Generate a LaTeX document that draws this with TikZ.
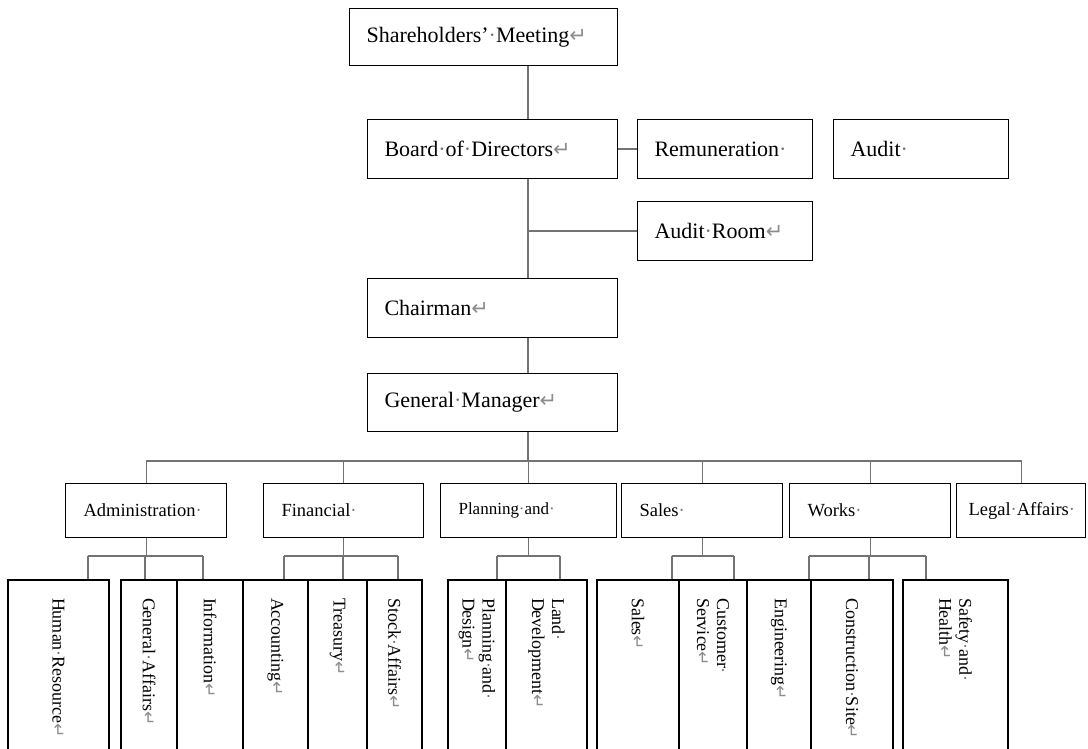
\documentclass[tikz,border=0pt]{standalone}
\usepackage{fontspec}
\setmainfont{Liberation Serif}
\newfontfamily\markfont{DejaVu Sans}
\usepackage{graphicx}
\usepackage{tikz}
\usetikzlibrary{positioning}

% word-processor marks as printed in the chart
\newcommand{\spdot}{{\color{black!55}·}}
\newcommand{\pmark}{{\markfont\color{black!45}\scalebox{0.95}{↵}}}

\tikzset{
	unit/.style={draw, line width=1.1pt, rectangle, anchor=north west, align=left, inner ysep=0pt},
	topunit/.style={unit, inner xsep=17pt, minimum height=59pt, font=\fontsize{22}{26}\selectfont},
	deptunit/.style={unit, inner xsep=18pt, minimum height=54pt, font=\fontsize{18.5}{22}\selectfont},
	secunit/.style={draw, line width=1.1pt, rectangle, rotate=-90, align=left, inner xsep=18pt, inner ysep=0pt,
		minimum width=190pt, text width=154pt, font=\fontsize{18}{20}\selectfont},
	link/.style={draw=black!55, line width=1.1pt},
}

\begin{document}
\begin{tikzpicture}[x=1pt,y=-1pt]
	\useasboundingbox (0,0) rectangle (1088,749);

	% board level
	\node[topunit, minimum height=57pt, text width=234pt] (sh) at (349,8) {Shareholders’\spdot Meeting\pmark};
	\node[topunit, text width=216pt] (board) at (367,119) {Board\spdot of\spdot Directors\pmark};
	\node[topunit, text width=141pt] (remun) at (637,119) {Remuneration\spdot};
	\node[topunit, text width=141pt] (audit) at (833,119) {Audit\spdot};
	\node[topunit, text width=141pt] (auditroom) at (637,201) {Audit\spdot Room\pmark};
	\node[topunit, text width=216pt] (chair) at (367,278) {Chairman\pmark};
	\node[topunit, minimum height=58pt, text width=216pt] (gm) at (367,373) {General\spdot Manager\pmark};

	% departments
	\node[deptunit, text width=125pt] (adm) at (65,483) {Administration\spdot};
	\node[deptunit, text width=124pt] (fin) at (263,483) {Financial\spdot};
	\node[deptunit, text width=140pt, font=\fontsize{17}{20}\selectfont] (plan) at (440,483) {Planning\spdot and\spdot};
	\node[deptunit, text width=125pt] (sale) at (621,483) {Sales\spdot};
	\node[deptunit, text width=125pt] (works) at (789,483) {Works\spdot};
	\node[deptunit, inner xsep=12pt, text width=105pt] (legal) at (956,483) {Legal\spdot Affairs\spdot};

	% sections
	\node[secunit, minimum height=101pt] (hr) at (58.5,675) {Human\spdot Resource\pmark};
	\node[secunit, minimum height=56pt] (genaff) at (149,675) {General\spdot Affairs\pmark};
	\node[secunit, minimum height=66pt] (info) at (210,675) {Information\pmark};
	\node[secunit, minimum height=65pt] (acct) at (275.5,675) {Accounting\pmark};
	\node[secunit, minimum height=59pt] (treas) at (337.5,675) {Treasury\pmark};
	\node[secunit, minimum height=55pt] (stock) at (394.5,675) {Stock\spdot Affairs\pmark};
	\node[secunit, minimum height=58pt] (pland) at (477,675) {Planning\spdot and\spdot\\Design\pmark};
	\node[secunit, minimum height=81pt] (land) at (546.5,675) {Land\spdot\\Development\pmark};
	\node[secunit, minimum height=82pt] (salesdiv) at (638,675) {Sales\pmark};
	\node[secunit, minimum height=68pt] (custsvc) at (713,675) {Customer\spdot\\Service\pmark};
	\node[secunit, minimum height=64pt] (engr) at (779,675) {Engineering\pmark};
	\node[secunit, minimum height=82pt] (site) at (852,675) {Construction\spdot Site\pmark};
	\node[secunit, minimum height=105pt] (safety) at (955.5,675) {Safety\spdot and\spdot\\Health\pmark};

	% spine
	\coordinate (spine) at (528,0);
	\coordinate (bus) at (0,461);
	\draw[link] (sh.south -| spine) -- (board.north -| spine);
	\draw[link] (board.east) -- (remun.west);
	\draw[link] (board.south -| spine) -- (chair.north -| spine);
	\draw[link] (auditroom.west) -- (auditroom.west -| spine);
	\draw[link] (chair.south -| spine) -- (gm.north -| spine);
	\draw[link] (gm.south -| spine) -- (spine |- bus);

	% department bus
	\draw[link] (adm.north) -- (adm.north |- bus) -- (legal.north |- bus) -- (legal.north);
	\foreach \dept in {fin,plan,sale,works}
		\draw[link] (\dept.north) -- (\dept.north |- bus);

	% section taps
	\foreach \kid/\tx in {hr/88, genaff/145, info/203, acct/284, treas/343, stock/398, pland/497, land/560, salesdiv/672, custsvc/734, engr/809, site/869, safety/926}
		{\coordinate (tap-\kid) at (\tx,556);
		\draw[link] (tap-\kid) -- (tap-\kid |- \kid.west);}
	\draw[link] (tap-hr) -- (tap-info);
	\draw[link] (tap-acct) -- (tap-stock);
	\draw[link] (tap-pland) -- (tap-land);
	\draw[link] (tap-salesdiv) -- (tap-custsvc);
	\draw[link] (tap-engr) -- (tap-safety);
	\foreach \dept/\kid in {adm/genaff, fin/treas, plan/pland, sale/salesdiv, works/site}
		\draw[link] (\dept.south) -- (\dept.south |- tap-\kid);
\end{tikzpicture}
\end{document}
